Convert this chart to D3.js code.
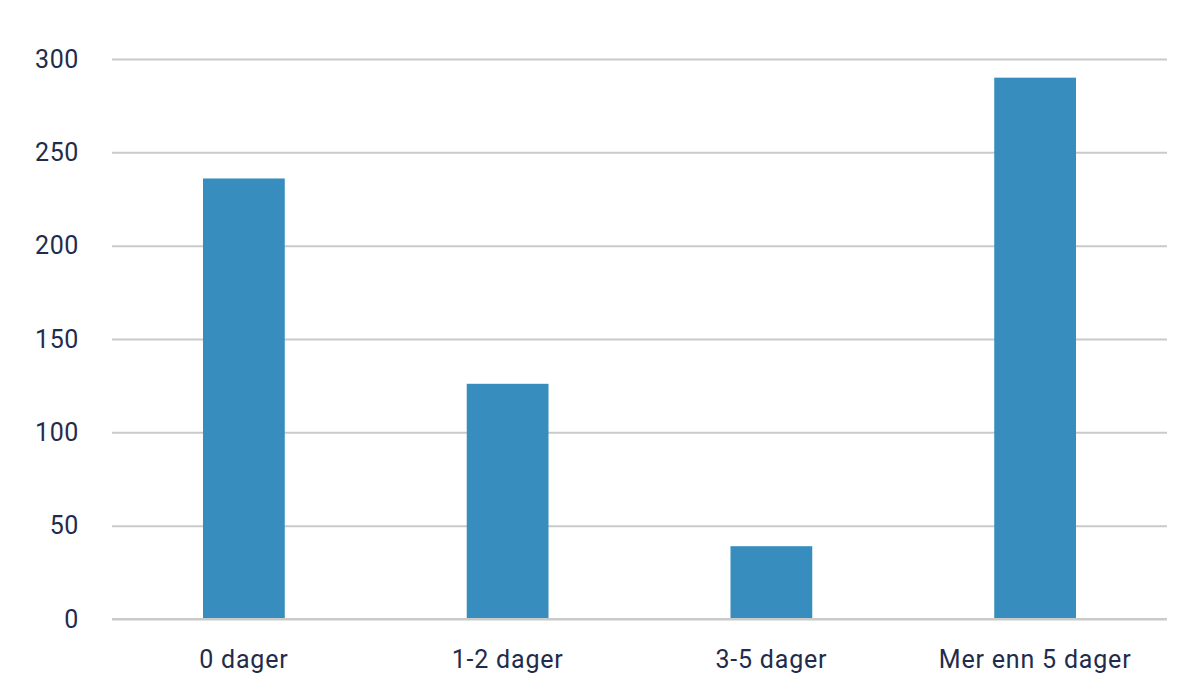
<!DOCTYPE html>
<html><head><meta charset="utf-8">
<script src="https://cdn.jsdelivr.net/npm/d3@7"></script>
<style>body{margin:0;background:#fff;}text{font-family:Roboto,"Noto Sans",sans-serif;}</style>
</head><body>
<svg id="c" width="1200" height="700"></svg>
<script>
const categories = ["0 dager", "1-2 dager", "3-5 dager", "Mer enn 5 dager"];
const values = [236, 126, 39, 290];
const yTicks = [0, 50, 100, 150, 200, 250, 300];

const svg = d3.select("#c");
const m = {left:112, right:1167, top:59, bottom:619};
const x = d3.scaleBand().domain(categories).range([m.left, m.right]).paddingInner(0.69).paddingOuter(0.345);
const y = d3.scaleLinear().domain([0,300]).range([m.bottom, m.top]);

const yAxis = svg.append("g").attr("transform",`translate(${m.left},0)`)
  .call(d3.axisLeft(y).tickValues(yTicks).tickSize(-(m.right-m.left)).tickPadding(33));
yAxis.select(".domain").remove();
yAxis.selectAll(".tick line").attr("stroke","#cacaca").attr("stroke-width",2);
yAxis.selectAll(".tick text").attr("fill","#1f2c4c").attr("font-size",25).attr("letter-spacing","0.6px");

svg.append("g").selectAll("rect").data(values).join("rect")
  .attr("x",(d,i)=>x(categories[i])).attr("width",x.bandwidth())
  .attr("y",d=>y(d)).attr("height",d=>y(0)-y(d)).attr("fill","#378dbd");

svg.append("line").attr("x1",m.left).attr("x2",m.right).attr("y1",y(0)).attr("y2",y(0)).attr("stroke","#cacaca").attr("stroke-width",2);

const xAxis = svg.append("g").attr("transform",`translate(0,${m.bottom})`)
  .call(d3.axisBottom(x).tickSize(0).tickPadding(31));
xAxis.select(".domain").remove();
xAxis.selectAll(".tick text").attr("fill","#1f2c4c").attr("font-size",25).attr("letter-spacing","0.8px");
</script>
</body></html>
